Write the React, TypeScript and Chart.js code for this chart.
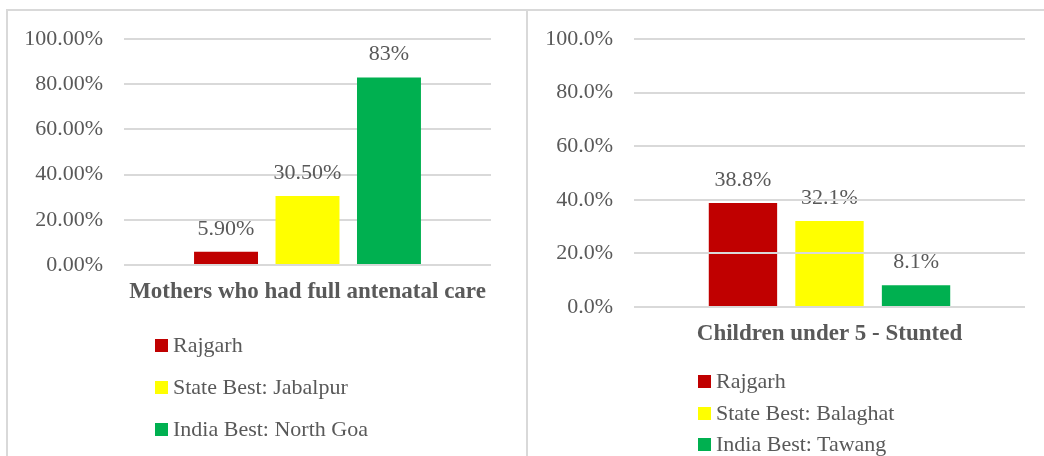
import React, { useEffect, useRef } from "react";
import { Chart, registerables } from "chart.js";

Chart.register(...registerables);

// ---------- data ----------
const leftCategories = ["Mothers who had full antenatal care"];
const leftSeries = ["Rajgarh", "State Best: Jabalpur", "India Best: North Goa"];
const leftValues = [5.9, 30.5, 83];
const leftValueLabels = ["5.90%", "30.50%", "83%"];
const leftTickLabels = ["0.00%", "20.00%", "40.00%", "60.00%", "80.00%", "100.00%"];

const rightCategories = ["Children under 5 - Stunted"];
const rightSeries = ["Rajgarh", "State Best: Balaghat", "India Best: Tawang"];
const rightValues = [38.8, 32.1, 8.1];
const rightValueLabels = ["38.8%", "32.1%", "8.1%"];
const rightTickLabels = ["0.0%", "20.0%", "40.0%", "60.0%", "80.0%", "100.0%"];

const seriesColors = ["#C00000", "#FFFF00", "#00B050"];

// ---------- styles ----------
const FONT = "'Liberation Serif', 'Times New Roman', serif";
const TEXT = "#595959";
const GRID = "#D9D9D9";
const BORDER = "#D9D9D9";

const valueLabelPlugin = {
  id: "valueLabels",
  afterDatasetsDraw(chart: any, _args: any, opts: any) {
    const ctx = chart.ctx;
    ctx.save();
    ctx.font = `${opts.size}px ${FONT}`;
    ctx.fillStyle = TEXT;
    ctx.textAlign = "center";
    ctx.textBaseline = "alphabetic";
    chart.data.datasets.forEach((_ds: any, i: number) => {
      const meta = chart.getDatasetMeta(i);
      meta.data.forEach((el: any) => {
        ctx.fillText(opts.labels[i], el.x, el.y - opts.offset);
      });
    });
    ctx.restore();
  },
};

type PanelProps = {
  left: number;
  width: number;
  categories: string[];
  series: string[];
  values: number[];
  valueLabels: string[];
  tickLabels: string[];
  yAxisWidth: number;
  padRight: number;
  xAxisHeight: number;
  titleCenterFromBottom: number;
  catPct: number;
  barPct: number;
  gridOnTop: boolean;
  legendX: number;
  legendRows: number[];
};

const TITLE_SIZE = 23;
const TICK_SIZE = 22;
const LABEL_SIZE = 22;
const LEGEND_SIZE = 22;

function BarPanel(p: PanelProps) {
  const ref = useRef<HTMLCanvasElement | null>(null);
  useEffect(() => {
    if (!ref.current) return;
    const chart = new Chart(ref.current, {
      type: "bar",
      data: {
        labels: p.categories,
        datasets: p.series.map((name, i) => ({
          label: name,
          data: [p.values[i]],
          backgroundColor: seriesColors[i],
          borderWidth: 0,
          categoryPercentage: p.catPct,
          barPercentage: p.barPct,
        })),
      },
      options: {
        responsive: false,
        animation: false,
        devicePixelRatio: 1,
        layout: { padding: { left: 0, right: p.padRight, top: 39, bottom: 0 } },
        plugins: {
          legend: { display: false },
          tooltip: { enabled: false },
          valueLabels: { labels: p.valueLabels, size: LABEL_SIZE, offset: 17 },
        } as any,
        scales: {
          x: {
            grid: { display: false, drawTicks: false },
            border: { display: false },
            ticks: { display: false },
            title: {
              display: true,
              text: p.categories[0],
              color: TEXT,
              font: { family: FONT, size: TITLE_SIZE, weight: "bold", lineHeight: 1.2 },
              padding: { top: 0, bottom: p.titleCenterFromBottom - (TITLE_SIZE * 1.2) / 2 },
            },
            afterFit: (scale: any) => {
              scale.height = p.xAxisHeight;
            },
          },
          y: {
            min: 0,
            max: 100,
            grid: { color: GRID, lineWidth: 2, drawTicks: false, z: p.gridOnTop ? 1 : 0 },
            border: { display: false },
            ticks: {
              stepSize: 20,
              padding: 21,
              color: TEXT,
              font: { family: FONT, size: TICK_SIZE },
              callback: (_v: any, i: number) => p.tickLabels[i],
            },
            afterFit: (scale: any) => {
              scale.width = p.yAxisWidth;
            },
          },
        },
      },
      plugins: [valueLabelPlugin],
    });
    return () => chart.destroy();
  }, []);

  return (
    <div style={{ position: "absolute", left: p.left, top: 0, width: p.width, height: 456 }}>
      <canvas ref={ref} width={p.width} height={456} style={{ display: "block" }} />
      {p.series.map((name, i) => (
        <div
          key={name}
          style={{
            position: "absolute",
            left: p.legendX,
            top: p.legendRows[i] - 14,
            height: 28,
            display: "flex",
            alignItems: "center",
            whiteSpace: "nowrap",
          }}
        >
          <span
            style={{
              display: "inline-block",
              width: 13,
              height: 13,
              background: seriesColors[i],
              marginRight: 5,
            }}
          />
          <span style={{ fontFamily: FONT, fontSize: LEGEND_SIZE, color: TEXT, lineHeight: "28px" }}>{name}</span>
        </div>
      ))}
    </div>
  );
}

export default function App() {
  return (
    <div
      style={{
        position: "fixed",
        left: 0,
        top: 0,
        width: 1044,
        height: 456,
        background: "#FFFFFF",
        overflow: "hidden",
      }}
    >
      <BarPanel
        left={0}
        width={526}
        categories={leftCategories}
        series={leftSeries}
        values={leftValues}
        valueLabels={leftValueLabels}
        tickLabels={leftTickLabels}
        yAxisWidth={124}
        padRight={35}
        xAxisHeight={191}
        titleCenterFromBottom={164}
        catPct={0.666}
        barPct={0.785}
        gridOnTop={false}
        legendX={155}
        legendRows={[345, 387, 429]}
      />
      <BarPanel
        left={527}
        width={517}
        categories={rightCategories}
        series={rightSeries}
        values={rightValues}
        valueLabels={rightValueLabels}
        tickLabels={rightTickLabels}
        yAxisWidth={107}
        padRight={19}
        xAxisHeight={149}
        titleCenterFromBottom={122}
        catPct={0.664}
        barPct={0.79}
        gridOnTop={true}
        legendX={171}
        legendRows={[381, 413, 444]}
      />
      {/* frame lines */}
      <div style={{ position: "absolute", left: 6, top: 9, width: 1038, height: 2, background: BORDER }} />
      <div style={{ position: "absolute", left: 6, top: 9, width: 2, height: 447, background: BORDER }} />
      <div style={{ position: "absolute", left: 526, top: 9, width: 2, height: 447, background: BORDER }} />
    </div>
  );
}
